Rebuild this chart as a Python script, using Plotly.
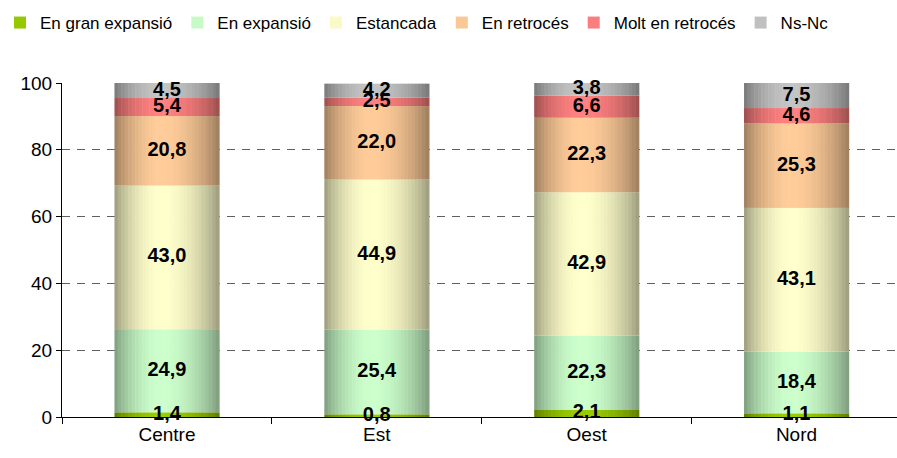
import plotly.graph_objects as go
import math

categories = ["Centre", "Est", "Oest", "Nord"]
series_names = ["En gran expansió", "En expansió", "Estancada", "En retrocés", "Molt en retrocés", "Ns-Nc"]
gran_expansio = [1.4, 0.8, 2.1, 1.1]
expansio = [24.9, 25.4, 22.3, 18.4]
estancada = [43.0, 44.9, 42.9, 43.1]
retroces = [20.8, 22.0, 22.3, 25.3]
molt_retroces = [5.4, 2.5, 6.6, 4.6]
ns_nc = [4.5, 4.2, 3.8, 7.5]
y_ticks = [0, 20, 40, 60, 80, 100]

series_values = [gran_expansio, expansio, estancada, retroces, molt_retroces, ns_nc]
light_colors = [(153, 204, 0), (204, 255, 204), (255, 255, 204), (255, 204, 153), (255, 128, 128), (196, 196, 196)]
dark_factor = 0.6

N = 30
bar_w = 0.5
peak = 0.45

def shade(light, t):
    d = (peak - t) / peak if t < peak else (t - peak) / (1 - peak)
    g = math.cos(math.pi / 2 * d) ** 0.8
    f = dark_factor + (1 - dark_factor) * g
    return "rgb(%d,%d,%d)" % tuple(int(round(c * f)) for c in light)

fig = go.Figure()
bases = [0.0] * len(categories)
label_x, label_y, label_t = [], [], []
for name, vals, light in zip(series_names, series_values, light_colors):
    for j in range(N):
        t = (j + 0.5) / N
        fig.add_trace(go.Bar(
            x=categories, y=vals, base=list(bases),
            width=bar_w / N * 1.15, offset=-bar_w / 2 + j * bar_w / N - (bar_w / N * 0.075 if j > 0 else 0),
            marker=dict(color=shade(light, t), line=dict(width=0)),
            name=name, legendgroup=name, showlegend=(j == int(N * 0.35)),
            hoverinfo="skip",
        ))
    for i, v in enumerate(vals):
        label_x.append(categories[i])
        label_y.append(bases[i] + v / 2)
        label_t.append(("%.1f" % v).replace(".", ","))
    bases = [b + v for b, v in zip(bases, vals)]

fig.add_trace(go.Scatter(
    x=label_x, y=label_y, text=label_t, mode="text",
    textfont=dict(family="Arial", size=20, color="black", weight="bold"),
    showlegend=False, cliponaxis=False, hoverinfo="skip",
))

fig.update_layout(
    width=897, height=458,
    barmode="overlay",
    plot_bgcolor="white", paper_bgcolor="white",
    margin=dict(l=62, r=0, t=83, b=41, autoexpand=False),
    font=dict(family="Arial", size=19, color="black"),
    legend=dict(orientation="h", xref="container", yref="container", x=-14 / 897, xanchor="left",
                y=1 - 23 / 458, yanchor="middle", font=dict(size=17), traceorder="normal",
                itemwidth=30, tracegroupgap=0),
    xaxis=dict(range=[-0.5, 3.479], showline=True, linecolor="black", linewidth=1,
               ticks="outside", tickson="boundaries", ticklen=6, tickcolor="black",
               showgrid=False, tickfont=dict(size=19)),
    yaxis=dict(range=[0, 100], tickvals=y_ticks, showline=True, linecolor="black", linewidth=1,
               ticks="outside", ticklen=5, tickcolor="black", showgrid=True,
               gridcolor="#606060", griddash="8px,7px", gridwidth=1, zeroline=False,
               tickfont=dict(size=19)),
)
fig.write_html("out.html", config={"displayModeBar": False},
               post_script="document.body.style.margin='0';document.body.style.overflow='hidden';")
